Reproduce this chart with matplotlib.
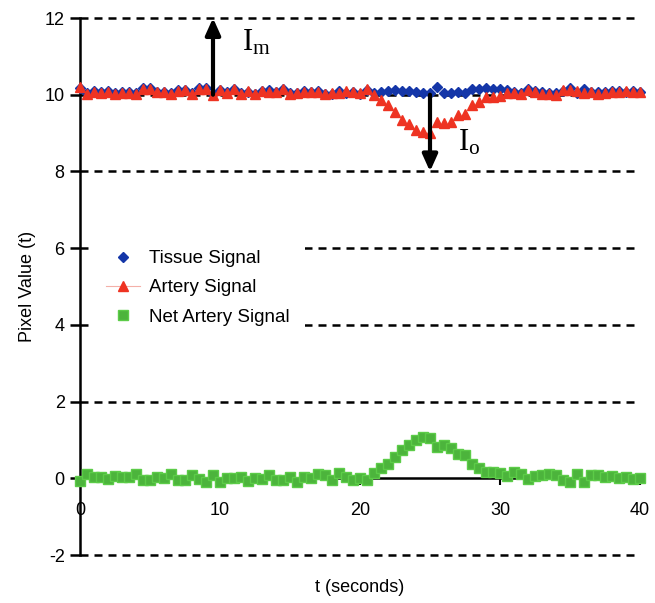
import numpy as np
import matplotlib
matplotlib.use("Agg")
import matplotlib.pyplot as plt
from matplotlib.lines import Line2D

plt.rcParams['font.family'] = ['Liberation Sans', 'DejaVu Sans']
plt.rcParams['axes.unicode_minus'] = False
plt.rcParams['mathtext.fontset'] = 'custom'
plt.rcParams['mathtext.rm'] = 'Liberation Serif'
plt.rcParams['mathtext.it'] = 'Liberation Serif'

t = np.arange(0, 40.5, 0.5)

tissue = [10.17, 10.05, 10.09, 10.07, 10.09, 10.04, 10.06, 10.06, 10.04, 10.17, 10.17,
          10.08, 10.08, 10.04, 10.12, 10.12, 10.04, 10.17, 10.17, 10.02, 10.12,
          10.06, 10.15, 10.05, 10.08, 10.03, 10.10, 10.12, 10.06, 10.15, 10.05,
          10.04, 10.09, 10.06, 10.10, 10.03, 10.02, 10.10, 10.05, 10.07, 10.03,
          10.12, 10.05, 10.08, 10.10, 10.12, 10.10, 10.10, 10.07, 10.05, 10.04,
          10.20, 10.05, 10.05, 10.07, 10.05, 10.15, 10.15, 10.18, 10.15, 10.15, 10.12,
          10.08, 10.05, 10.15, 10.10, 10.07, 10.05, 10.05, 10.10, 10.18, 10.05,
          10.15, 10.08, 10.08, 10.08, 10.10, 10.10, 10.08, 10.10, 10.08]

artery = [10.20, 10.02, 10.06, 10.05, 10.07, 10.03, 10.05, 10.04, 10.01, 10.15, 10.15,
          10.06, 10.07, 10.01, 10.10, 10.11, 10.02, 10.16, 10.16, 10.00, 10.13,
          10.05, 10.14, 10.03, 10.10, 10.02, 10.09, 10.08, 10.08, 10.14, 10.03,
          10.05, 10.07, 10.06, 10.06, 10.01, 10.04, 10.04, 10.10, 10.06, 10.05,
          10.15, 10.00, 9.87, 9.74, 9.56, 9.34, 9.24, 9.08, 9.03, 9.00,
          9.29, 9.26, 9.30, 9.47, 9.50, 9.73, 9.82, 9.94, 9.95, 9.97, 10.05,
          10.05, 10.02, 10.12, 10.06, 10.02, 10.01, 10.00, 10.13, 10.12, 10.10,
          10.05, 10.06, 10.02, 10.04, 10.08, 10.06, 10.10, 10.08, 10.08]

net = [-0.07, 0.10, 0.04, 0.04, -0.03, 0.06, 0.04, 0.03, 0.10, -0.04, -0.04,
       0.04, 0.00, 0.10, -0.04, -0.04, 0.09, -0.03, -0.09, 0.09, -0.09,
       0.00, 0.00, 0.04, -0.07, 0.00, -0.03, 0.09, -0.04, -0.04, 0.04,
       -0.09, 0.04, 0.00, 0.10, 0.09, -0.04, 0.13, 0.04, -0.04, 0.00,
       -0.05, 0.15, 0.26, 0.37, 0.56, 0.75, 0.87, 1.01, 1.08, 1.04,
       0.82, 0.87, 0.78, 0.63, 0.60, 0.36, 0.28, 0.16, 0.16, 0.15, 0.06,
       0.17, 0.10, -0.03, 0.05, 0.09, 0.10, 0.09, -0.05, -0.09, 0.10,
       -0.09, 0.09, 0.09, 0.04, 0.06, 0.00, 0.04, -0.03, 0.00]

yticks = [-2, 0, 2, 4, 6, 8, 10, 12]
xticks = [0, 10, 20, 30, 40]

c_tissue = '#1436a8'
c_artery = '#ee3322'
c_net = '#4cb43c'

fig = plt.figure(figsize=(6.55, 6.03), dpi=100)
ax = fig.add_axes([80/655, 1-555/603, 560/655, 537/603])
ax.set_xlim(0, 40)
ax.set_ylim(-2, 12)

# dashed gridlines
for yv in yticks:
    if yv == 0:
        continue
    ax.axhline(yv, color='black', lw=1.8, ls=(0, (3.2, 2.4)), zorder=1, clip_on=False)

for s in ['top', 'right']:
    ax.spines[s].set_visible(False)
ax.spines['left'].set_linewidth(1.8)
ax.spines['bottom'].set_position(('data', 0))
ax.spines['bottom'].set_linewidth(1.8)
ax.spines['bottom'].set_zorder(2)

ax.plot(t, tissue, ls='none', marker='D', ms=5.5, color=c_tissue, mec=c_tissue,
        zorder=4, clip_on=False)
ax.plot(t, artery, ls='none', marker='^', ms=6.5, color=c_artery, mec=c_artery,
        zorder=5, clip_on=False)
ax.plot(t, net, ls='none', marker='s', ms=6.5, color=c_net, mec='#5ccc48',
        zorder=5, clip_on=False)

ax.set_yticks(yticks)
ax.set_xticks(xticks)
ax.tick_params(axis='y', direction='out', length=7, width=1.8, labelsize=13, pad=4)
ax.tick_params(axis='x', direction='out', length=5, width=1.5, labelsize=13, pad=12)

ax.set_xlabel('t (seconds)', fontsize=13, labelpad=43)
ax.set_ylabel('Pixel Value (t)', fontsize=13, labelpad=6)

# arrows
ax.annotate('', xy=(9.5, 12), xytext=(9.5, 10.0),
            arrowprops=dict(arrowstyle='-|>,head_width=0.45,head_length=1.0',
                            lw=3, color='black', shrinkA=0, shrinkB=0), zorder=6)
ax.annotate('', xy=(25, 8), xytext=(25, 10.0),
            arrowprops=dict(arrowstyle='-|>,head_width=0.45,head_length=1.0',
                            lw=3, color='black', shrinkA=0, shrinkB=0), zorder=6)
ax.text(11.6, 11.15, r'$\mathrm{I_m}$', fontsize=22, va='baseline')
ax.text(27.0, 8.55, r'$\mathrm{I_o}$', fontsize=22, va='baseline')

handles = [
    Line2D([], [], ls='none', marker='D', ms=5.5, color=c_tissue),
    Line2D([], [], ls='-', lw=0.8, color='#f4b0a8', marker='^', ms=6.5,
           mfc=c_artery, mec=c_artery),
    Line2D([], [], ls='none', marker='s', ms=6.5, color=c_net, mec='#5ccc48'),
]
leg = ax.legend(handles, ['Tissue Signal', 'Artery Signal', 'Net Artery Signal'],
                loc='upper left', bbox_to_anchor=(0.02, 0.596), frameon=True,
                fontsize=13.5, handlelength=1.8, handletextpad=0.5,
                labelspacing=0.65, borderpad=0.8, borderaxespad=0)
leg.get_frame().set_edgecolor('none')
leg.get_frame().set_facecolor('white')
leg.get_frame().set_alpha(1)
leg.set_zorder(3)

fig.savefig('out.png', dpi=100)
